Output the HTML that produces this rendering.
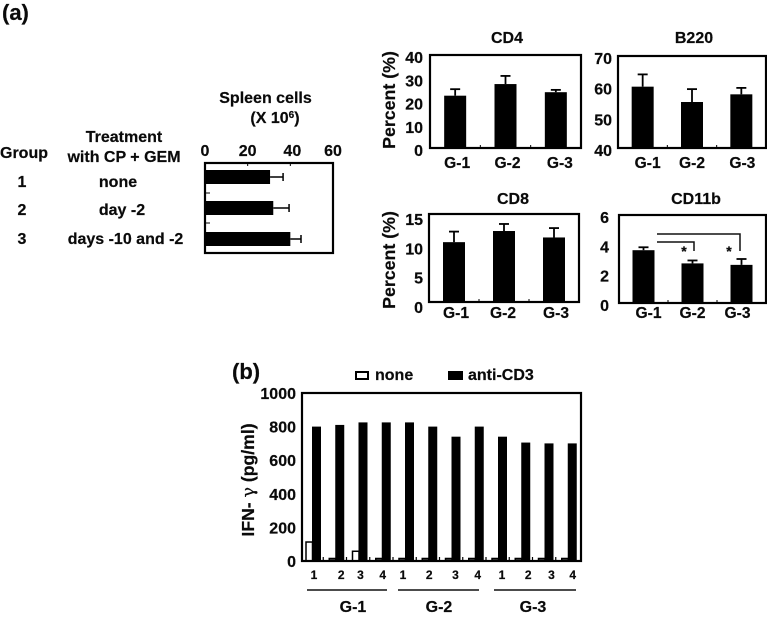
<!DOCTYPE html>
<html lang="en">
<head>
<meta charset="utf-8">
<title>Spleen cells, surface markers and IFN-gamma by group</title>
<style>
html,body{margin:0;padding:0;background:#fff;width:767px;height:617px;overflow:hidden}
svg{display:block}
text{font-family:"Liberation Sans",Arial,sans-serif;font-weight:bold;fill:#0a0a0a;stroke:#0a0a0a;stroke-width:.2px;font-size:16px}
</style>
</head>
<body>
<svg id="fig" xmlns="http://www.w3.org/2000/svg" width="767" height="617" viewBox="0 0 767 617">
  <text x="2" y="20" style="font-size:22px">(a)</text>
  <text x="232" y="379" style="font-size:22px">(b)</text>

  <text x="0" y="158">Group</text>
  <text x="124" y="142" text-anchor="middle">Treatment</text>
  <text x="124" y="162" text-anchor="middle">with CP + GEM</text>
  <text x="22" y="187" text-anchor="middle">1</text>
  <text x="22" y="215" text-anchor="middle">2</text>
  <text x="22" y="244" text-anchor="middle">3</text>
  <text x="118" y="187" text-anchor="middle">none</text>
  <text x="122" y="215" text-anchor="middle">day -2</text>
  <text x="125.5" y="244" text-anchor="middle">days -10 and -2</text>
  <text x="265.5" y="103" text-anchor="middle">Spleen cells</text>
  <text x="275" y="123" text-anchor="middle">(X 10<tspan dy="-5" style="font-size:10px">6</tspan><tspan dy="5">)</tspan></text>

  <text x="507" y="43" text-anchor="middle">CD4</text>
  <text x="694" y="43" text-anchor="middle">B220</text>
  <text x="513" y="204" text-anchor="middle">CD8</text>
  <text x="696" y="204" text-anchor="middle">CD11b</text>
  <text transform="translate(395,100) rotate(-90)" text-anchor="middle" style="font-size:17.8px">Percent (%)</text>
  <text transform="translate(395,260) rotate(-90)" text-anchor="middle" style="font-size:17.8px">Percent (%)</text>
  <text transform="translate(254,480) rotate(-90)" text-anchor="middle" style="font-size:17.6px">IFN- <tspan style="font-family:'DejaVu Serif',serif;font-weight:normal">γ</tspan> (pg/ml)</text>

  <rect x="356" y="372" width="12" height="7" fill="#fff" stroke="#000" stroke-width="2"/>
  <text x="375" y="380">none</text>
  <rect x="448" y="371" width="15" height="9" fill="#000"/>
  <text x="468" y="380">anti-CD3</text>

  <g stroke="#111" stroke-width="1.5">
    <line x1="307" x2="387" y1="590" y2="590"/>
    <line x1="398" x2="479" y1="590" y2="590"/>
    <line x1="494" x2="576" y1="590" y2="590"/>
  </g>
  <text x="353" y="612" text-anchor="middle">G-1</text>
  <text x="439" y="612" text-anchor="middle">G-2</text>
  <text x="533" y="612" text-anchor="middle">G-3</text>

  <g fill="none" stroke="#111" stroke-width="1.5">
    <polyline points="657,242 694,242 694,251"/>
    <polyline points="657,234 740,234 740,251"/>
  </g>
  <text x="684" y="256" text-anchor="middle" style="font-size:14px">*</text>
  <text x="729" y="256" text-anchor="middle" style="font-size:14px">*</text>
</svg>
<script>
const groupLabels = ['G-1', 'G-2', 'G-3'];

const spleenValues = [30.5, 32, 40];
const spleenErrorTops = [36.6, 39.4, 45];
const spleenTicks = [0, 20, 40, 60];

const cd4Values = [22.5, 27.5, 24];
const cd4ErrorTops = [25.3, 31, 25];
const cd4Ticks = [0, 10, 20, 30, 40];

const b220Values = [60, 55, 57.5];
const b220ErrorTops = [64, 59.2, 59.6];
const b220Ticks = [40, 50, 60, 70];

const cd8Values = [10.2, 12.1, 11];
const cd8ErrorTops = [12, 13.3, 12.6];
const cd8Ticks = [0, 5, 10, 15];

const cd11bValues = [3.6, 2.7, 2.6];
const cd11bErrorTops = [3.8, 2.9, 3.0];
const cd11bTicks = [0, 2, 4, 6];

const ifnCategories = ['1', '2', '3', '4', '1', '2', '3', '4', '1', '2', '3', '4'];
const ifnNoneValues = [113, 15, 58, 15, 15, 15, 15, 15, 15, 15, 15, 15];
const ifnAntiCd3Values = [800, 810, 825, 825, 825, 800, 740, 800, 740, 705, 700, 700];
const ifnTicks = [0, 200, 400, 600, 800, 1000];

const svg = document.getElementById('fig');
const NS = 'http://www.w3.org/2000/svg';

function make(tag, attrs, text) {
  const el = document.createElementNS(NS, tag);
  for (const k in attrs) el.setAttribute(k, attrs[k]);
  if (text !== undefined) el.textContent = text;
  svg.appendChild(el);
  return el;
}
function linear(d0, d1, r0, r1) {
  return function (v) { return r0 + (v - d0) * (r1 - r0) / (d1 - d0); };
}
function drawFrame(x0, y0, x1, y1, id) {
  const fr = make('rect', { x: x0, y: y0, width: x1 - x0, height: y1 - y0, fill: 'none', stroke: '#000', 'stroke-width': 2.2 });
  
  
}

function drawColumnPanel(id, values, errs, ticks, box, tickRight, labelY, labelNudge, tickDrop) {
  const y = linear(ticks[0], ticks[ticks.length - 1], box.y1, box.y0);
  const band = (box.x1 - box.x0) / values.length;
  values.forEach(function (v, i) {
    const cx = box.x0 + band * (i + 0.5);
    const stem = make('line', { x1: cx, x2: cx, y1: y(errs[i]), y2: y(v), stroke: '#000', 'stroke-width': 1.8 });
    
    
    const cap = make('line', { x1: cx - 5, x2: cx + 5, y1: y(errs[i]), y2: y(errs[i]), stroke: '#000', 'stroke-width': 1.8 });
    
    
    const bar = make('rect', { x: cx - 11, y: y(v), width: 22, height: box.y1 - y(v), fill: '#000' });
    
    
    const lab = make('text', { x: cx + labelNudge[i], y: labelY, 'text-anchor': 'middle', style: 'font-size:15.6px' }, groupLabels[i]);
    
    
    if (i > 0) {
      const tk = make('line', { x1: box.x0 + band * i, x2: box.x0 + band * i, y1: box.y1, y2: box.y1 - 3, stroke: '#000', 'stroke-width': 1 });
      
      
    }
  });
  ticks.forEach(function (t) {
    const lab = make('text', { x: tickRight, y: y(t) + tickDrop, 'text-anchor': 'end' }, String(t));
    
    
  });
  drawFrame(box.x0, box.y0, box.x1, box.y1, id);
}

function drawSpleen() {
  const box = { x0: 205, x1: 333, y0: 163, y1: 253 };
  const x = linear(0, 60, box.x0, box.x1);
  const band = (box.y1 - box.y0) / spleenValues.length;
  spleenValues.forEach(function (v, i) {
    const cy = box.y0 + band * (i + 0.5) - 1 + i;
    const stem = make('line', { x1: x(v), x2: x(spleenErrorTops[i]), y1: cy, y2: cy, stroke: '#000', 'stroke-width': 1.5 });
    
    
    const cap = make('line', { x1: x(spleenErrorTops[i]), x2: x(spleenErrorTops[i]), y1: cy - 4, y2: cy + 4, stroke: '#000', 'stroke-width': 1.5 });
    
    
    const bar = make('rect', { x: box.x0, y: cy - 7, width: x(v) - box.x0, height: 14, fill: '#000' });
    
    
    if (i > 0) {
      const tk = make('line', { x1: box.x0, x2: box.x0 + 5, y1: box.y0 + band * i, y2: box.y0 + band * i, stroke: '#000', 'stroke-width': 1 });
      
      
    }
  });
  spleenTicks.forEach(function (t) {
    const lab = make('text', { x: x(t) + (t === 40 ? 2 : 0), y: 156, 'text-anchor': 'middle' }, String(t));
    
    
    const tk = make('line', { x1: x(t), x2: x(t), y1: box.y0, y2: box.y0 + 3, stroke: '#000', 'stroke-width': 1 });
    
    
  });
  drawFrame(box.x0, box.y0, box.x1, box.y1, 'spleen');
}

function drawIfn() {
  const box = { x0: 302, x1: 581, y0: 393, y1: 561 };
  const y = linear(0, 1000, box.y1, box.y0);
  const band = (box.x1 - box.x0) / ifnCategories.length;
  const labelNudge = [0, 4, 0, -1, -4, -1, 2, 1, 2, 5, 5, 3];
  ifnCategories.forEach(function (c, i) {
    const left = box.x0 + band * i;
    if (i > 0) {
      const tk = make('line', { x1: left - 2, x2: left - 2, y1: box.y1, y2: box.y1 - 4, stroke: '#000', 'stroke-width': 1.2 });
      
      
    }
    const n = make('rect', { x: left + 4, y: y(ifnNoneValues[i]), width: 6.5, height: box.y1 - y(ifnNoneValues[i]), fill: ifnNoneValues[i] < 30 ? '#444' : '#fff', stroke: '#000', 'stroke-width': 1.5 });
    
    
    const a = make('rect', { x: left + 10, y: y(ifnAntiCd3Values[i]), width: 9, height: box.y1 - y(ifnAntiCd3Values[i]), fill: '#000' });
    
    
    const lab = make('text', { x: left + 12 + labelNudge[i], y: 579, 'text-anchor': 'middle', style: 'font-size:12px' }, c);
    
    
  });
  ifnTicks.forEach(function (t) {
    const lab = make('text', { x: 296, y: y(t) + 6, 'text-anchor': 'end' }, String(t));
    
    
  });
  drawFrame(box.x0, box.y0, box.x1, box.y1, 'ifn');
}

drawSpleen();
drawColumnPanel('cd4', cd4Values, cd4ErrorTops, cd4Ticks, { x0: 430, x1: 581, y0: 55, y1: 148 }, 423, 168, [2, 2, 4], 8);
drawColumnPanel('b220', b220Values, b220ErrorTops, b220Ticks, { x0: 618, x1: 766, y0: 56, y1: 148 }, 612, 168, [5, 0, 1], 8);
drawColumnPanel('cd8', cd8Values, cd8ErrorTops, cd8Ticks, { x0: 429, x1: 579, y0: 214, y1: 302 }, 423, 318, [2, -1, 2], 11);
drawColumnPanel('cd11b', cd11bValues, cd11bErrorTops, cd11bTicks, { x0: 619, x1: 766, y0: 215, y1: 303 }, 609, 318, [5, 0, -4], 8);
drawIfn();
</script>
</body>
</html>
